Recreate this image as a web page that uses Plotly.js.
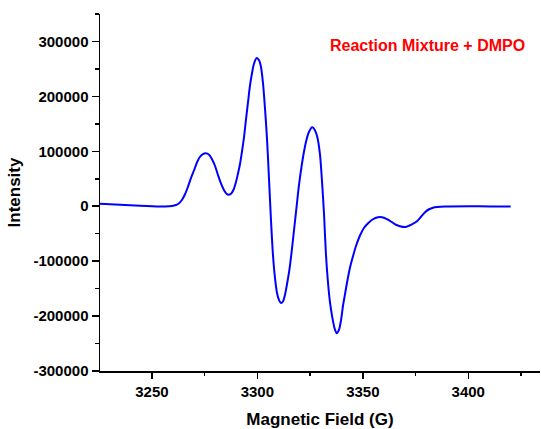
<!DOCTYPE html>
<html>
<head>
<meta charset="utf-8">
<script src="https://cdn.plot.ly/plotly-3.0.1.min.js"></script>
<style>html,body{margin:0;padding:0;background:#fff;}#chart{width:541px;height:429px;}</style>
</head>
<body>
<div id="chart"></div>
<script>
// Magnetic field (G) values
const field = [3225.4, 3234.9, 3244.4, 3253.8, 3256.2, 3259.5, 3261.4, 3262.9, 3264.3, 3265.7,
  3267.1, 3268.5, 3270.0, 3271.4, 3272.8, 3274.2, 3275.5, 3277.1, 3278.5, 3279.9,
  3281.3, 3282.8, 3284.2, 3285.4, 3286.3, 3287.5, 3288.7, 3289.9, 3290.8, 3291.8,
  3292.7, 3293.7, 3294.6, 3295.6, 3296.5, 3297.5, 3298.4, 3299.7, 3300.8, 3301.7,
  3302.7, 3303.6, 3304.6, 3305.5, 3306.5, 3307.4, 3308.4, 3309.3, 3310.3, 3311.2,
  3312.2, 3313.1, 3314.1, 3315.2, 3316.2, 3317.4, 3318.6, 3319.7, 3320.9, 3322.1,
  3323.3, 3324.5, 3326.0, 3327.3, 3328.5, 3329.7, 3330.6, 3331.6, 3332.5, 3333.5,
  3334.4, 3335.4, 3336.6, 3337.6, 3338.7, 3339.7, 3340.6, 3341.6, 3342.5, 3343.9,
  3345.4, 3346.8, 3348.7, 3350.6, 3352.5, 3354.4, 3356.3, 3358.1, 3360.0, 3361.9,
  3363.8, 3365.7, 3367.6, 3370.0, 3371.9, 3373.8, 3375.7, 3377.6, 3379.5, 3381.4,
  3383.3, 3385.2, 3389.0, 3400.8, 3410.3, 3420.1];
// Intensity values
const intensity = [4600, 2700, 900, -400, -400, 400, 2200, 5500, 11800, 21800,
  35500, 51000, 65500, 80100, 90100, 95000, 96500, 93800, 85600, 73700,
  57400, 41000, 29100, 22800, 20900, 22800, 30000, 44600, 59200, 77400,
  99200, 126500, 157500, 190300, 219400, 243100, 259400, 269800, 265800, 254000,
  223000, 179300, 121100, 51900, -28200, -88300, -132000, -157500, -171100, -176200,
  -173000, -161100, -141100, -115600, -84700, -42800, -900, 37300, 71000, 99200,
  121100, 135600, 143800, 138400, 124700, 93800, 48200, -13700, -86500, -139300,
  -173900, -199400, -222100, -231200, -224900, -206700, -181200, -159300, -139300, -112000,
  -90100, -71900, -52800, -39100, -31000, -24600, -20900, -19700, -20900, -24600,
  -29100, -33700, -36400, -37900, -35500, -31900, -27300, -19100, -10900, -5500,
  -2700, -1500, -500, 0, -400, -400];

const xTickVals = [3250, 3300, 3350, 3400];
const xTickText = ["3250", "3300", "3350", "3400"];
const yTickVals = [-300000, -200000, -100000, 0, 100000, 200000, 300000];
const yTickText = ["-300000", "-200000", "-100000", "0", "100000", "200000", "300000"];

const xTitle = "Magnetic Field (G)";
const yTitle = "Intensity";
const label = "Reaction Mixture + DMPO";

const fontFam = "Liberation Sans, Arial, sans-serif";

const trace = {
  x: field, y: intensity, type: 'scatter', mode: 'lines',
  line: {color: '#0000ff', width: 2, shape: 'spline', smoothing: 0.8},
  hoverinfo: 'none'
};

const layout = {
  width: 541, height: 429,
  margin: {l: 100, r: 1, t: 14, b: 58},
  paper_bgcolor: '#ffffff', plot_bgcolor: '#ffffff',
  showlegend: false,
  font: {family: fontFam, color: '#000'},
  xaxis: {
    range: [3225.4, 3434], showgrid: false, zeroline: false,
    showline: true, linecolor: '#000', linewidth: 1.5,
    ticks: 'outside', ticklen: 6, tickwidth: 1.5, tickcolor: '#000',
    tickvals: xTickVals, ticktext: xTickText,
    tickfont: {family: fontFam, size: 15, weight: 'bold', color: '#000'},
    minor: {dtick: 25, tick0: 3225, ticks: 'outside', ticklen: 3, tickwidth: 1.5, tickcolor: '#000', showgrid: false},
    title: {text: xTitle, font: {family: fontFam, size: 17, weight: 'bold', color: '#000'}, standoff: 16},
    automargin: false
  },
  yaxis: {
    range: [-300000, 350000], showgrid: false, zeroline: false,
    showline: true, linecolor: '#000', linewidth: 1.5,
    ticks: 'outside', ticklen: 7, tickwidth: 1.5, tickcolor: '#000',
    tickvals: yTickVals, ticktext: yTickText,
    tickfont: {family: fontFam, size: 15, weight: 'bold', color: '#000'},
    minor: {dtick: 50000, tick0: 0, ticks: 'outside', ticklen: 4, tickwidth: 1.5, tickcolor: '#000', showgrid: false},
    title: {text: yTitle, font: {family: fontFam, size: 17, weight: 'bold', color: '#000'}, standoff: 8},
    automargin: false
  },
  annotations: [{
    text: label, xref: 'paper', yref: 'paper', x: 0.97, y: 0.913,
    xanchor: 'right', yanchor: 'middle', showarrow: false,
    font: {family: fontFam, size: 16, weight: 'bold', color: '#ff0000'}
  }]
};

Plotly.newPlot('chart', [trace], layout, {displayModeBar: false, staticPlot: true});
</script>
</body>
</html>
